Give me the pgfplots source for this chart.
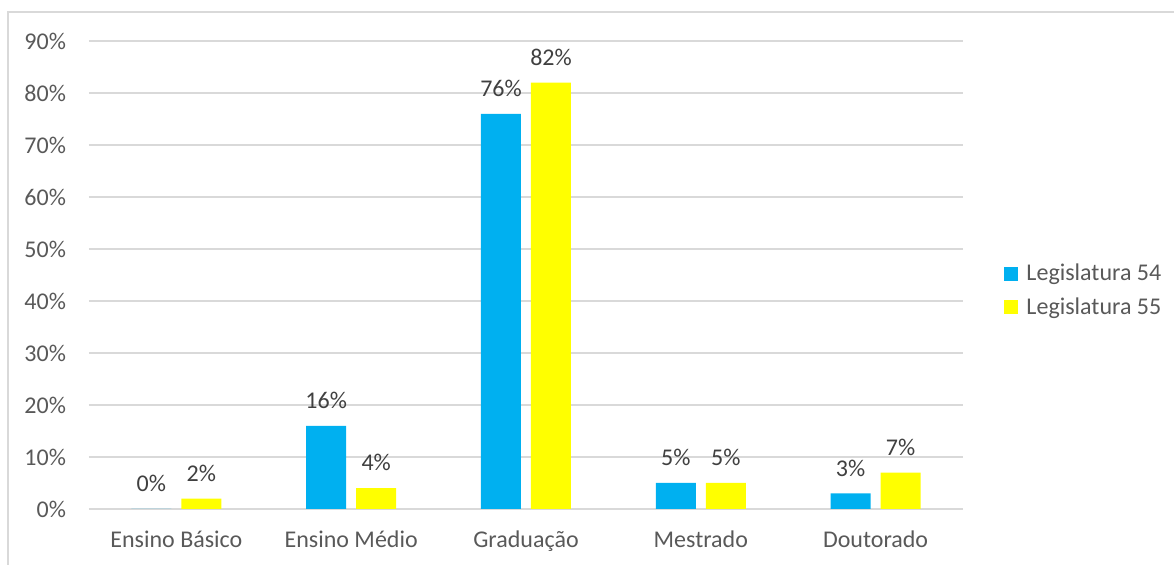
\documentclass[border=0pt]{standalone}
\usepackage{fontspec}
\setmainfont{Carlito}
\usepackage{pgfplots}
\pgfplotsset{compat=1.18}
\definecolor{barblue}{HTML}{00B0F0}
\definecolor{baryellow}{HTML}{FFFF00}
\definecolor{gridgray}{HTML}{D9D9D9}
\definecolor{ticktext}{HTML}{595959}
\definecolor{labeltext}{HTML}{404040}

\begin{document}
\begin{tikzpicture}[font=\fontsize{12}{14}\selectfont]
\useasboundingbox (-44.5pt,-28pt) rectangle (542.5pt,254.5pt);
% chart frame (only top and left edges fall inside the picture)
\draw[gridgray, line width=0.8pt] (-40.5pt,-28pt) -- (-40.5pt,248.5pt) -- (542.5pt,248.5pt);
\begin{axis}[
    at={(0pt,0pt)}, anchor=south west,
    scale only axis, width=437pt, height=234pt,
    ybar=5pt, bar width=20pt,
    ymin=0, ymax=90, ytick={0,10,...,90},
    yticklabel={\pgfmathprintnumber{\tick}\%},
    xmin=-0.5, xmax=4.5, xtick={0,1,2,3,4},
    xticklabels={Ensino Básico, Ensino Médio, Graduação, Mestrado, Doutorado},
    axis line style={draw=none}, tick style={draw=none},
    ymajorgrids, major grid style={gridgray, line width=0.8pt},
    yticklabel style={ticktext, xshift=-8pt},
    xticklabel style={ticktext, yshift=-3pt},
    /pgf/number format/assume math mode=true,
    nodes near coords={\pgfmathprintnumber{\pgfplotspointmeta}\%},
    every node near coord/.append style={labeltext, yshift=5pt},
    legend style={at={(1.047,0.467)}, anchor=west, draw=none, fill=none,
        inner sep=0pt, row sep=3pt, text=ticktext,
        /tikz/every odd column/.append style={column sep=2pt}},
    legend cell align=left,
    legend image code/.code={\draw[#1, draw=none] (0pt,-3.5pt) rectangle (7pt,3.5pt);},
]
\addplot[fill=barblue, draw=none] coordinates {
    (0, 0) (1, 16) (2, 76) (3, 5) (4, 3)
};
\addlegendentry{Legislatura 54}
\addplot[fill=baryellow, draw=none] coordinates {
    (0, 2) (1, 4) (2, 82) (3, 5) (4, 7)
};
\addlegendentry{Legislatura 55}
\end{axis}
\end{tikzpicture}
\end{document}
